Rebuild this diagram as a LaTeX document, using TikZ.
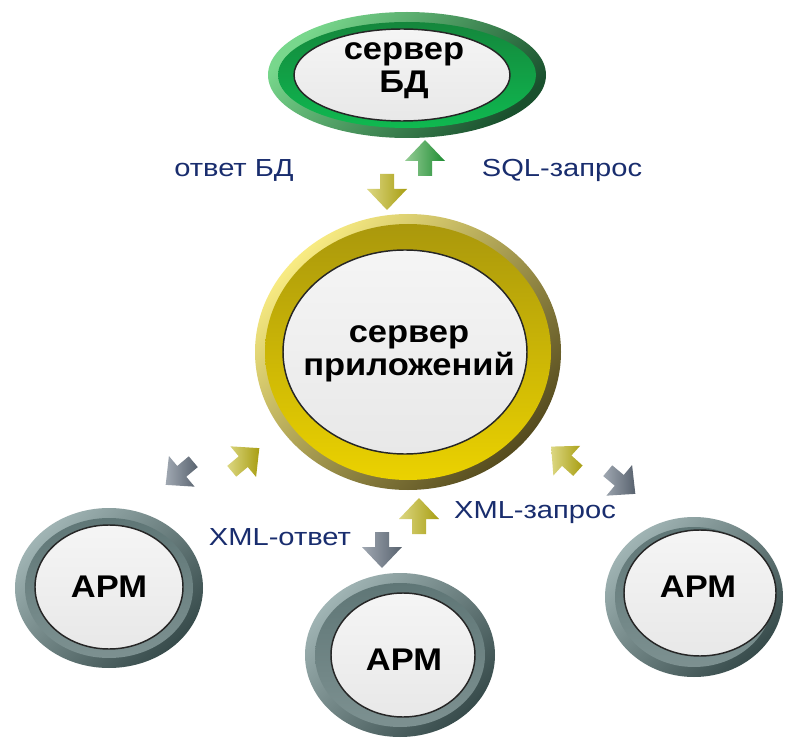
\documentclass[tikz,border=0pt]{standalone}
\usepackage{fontspec}
\setmainfont{Liberation Sans}
\newfontfamily\boldwide[FakeStretch=1.1]{Liberation Sans}
\newfontfamily\labwide[FakeStretch=1.18]{Liberation Sans}
\usetikzlibrary{shapes.geometric}
% ring colours
\definecolor{grnA}{RGB}{120,215,140}\definecolor{grnB}{RGB}{25,80,45}
\definecolor{grnC}{RGB}{20,135,60}\definecolor{grnD}{RGB}{15,185,80}
\definecolor{ylwA}{RGB}{248,235,130}\definecolor{ylwB}{RGB}{85,75,30}
\definecolor{ylwC}{RGB}{170,152,12}\definecolor{ylwD}{RGB}{235,210,0}
\definecolor{gryA}{RGB}{160,180,180}\definecolor{gryB}{RGB}{55,75,75}
\definecolor{gryC}{RGB}{95,118,118}\definecolor{gryD}{RGB}{125,145,145}
% arrow colours
\definecolor{agL}{RGB}{150,205,150}\definecolor{agD}{RGB}{30,140,50}
\definecolor{ayL}{RGB}{220,215,130}\definecolor{ayD}{RGB}{168,158,18}
\definecolor{arL}{RGB}{160,168,178}\definecolor{arD}{RGB}{88,98,110}
\definecolor{navy}{RGB}{25,45,110}
\tikzset{
  disc/.style={ellipse, inner sep=0pt, draw=black!85, line width=1.1pt,
    top color=gray!8, middle color=gray!32, bottom color=gray!18},
  bigtxt/.style={font=\boldwide\bfseries\fontsize{23.5}{25}\selectfont, align=center, inner sep=0pt},
  labtxt/.style={font=\labwide\fontsize{18.5}{20}\selectfont, text=navy, inner sep=0pt}
}
\newcommand\myring[5]{%
  \shade[top color=#5A, bottom color=#5B, shading angle=45] (#1,-#2) ellipse [x radius=#3, y radius=#4];
  \shade[top color=#5C, bottom color=#5D] (#1,-#2) ellipse [x radius=#3-10, y radius=#4-10];
}
\newcommand\blockarrow[5]{%
  \begin{scope}[shift={(#1,-#2)}, rotate=#3]
    \shade[left color=#4, right color=#5]
      (-16,-7) -- (-1,-7) -- (-1,-20) -- (20,0) -- (-1,20) -- (-1,7) -- (-16,7) -- cycle;
  \end{scope}}
\begin{document}
\begin{tikzpicture}[x=0.75pt,y=0.75pt]
\useasboundingbox (0,0) rectangle (786,-738);
\fill[white] (0,0) rectangle (786,-738);

% top: DB server
\myring{407}{75}{139}{63}{grn}
\node[disc, minimum width=162pt, minimum height=69pt] (dbdisc) at (402,-75) {};
\node[bigtxt] (db) at (404,-71) {сервер\\БД};

% centre: application server
\myring{408}{352}{153}{138}{ylw}
\node[disc, minimum width=183pt, minimum height=153pt] (appdisc) at (405,-352) {};
\node[bigtxt] (app) at (409,-354) {сервер\\приложений};

% workstations
\myring{109}{588}{94}{80}{gry}
\node[disc, minimum width=111pt, minimum height=93pt] (apm1disc) at (109,-587) {};
\node[bigtxt] (apm1) at (109,-587) {АРМ};

\myring{400}{655}{95}{82}{gry}
\node[disc, minimum width=108pt, minimum height=93pt] (apm2disc) at (403,-655) {};
\node[bigtxt] (apm2) at (404,-660) {АРМ};

\myring{694}{597}{89}{80}{gry}
\node[disc, minimum width=114pt, minimum height=94.5pt] (apm3disc) at (700,-593) {};
\node[bigtxt] (apm3) at (698,-587) {АРМ};

% block arrows
\blockarrow{425}{160}{90}{agL}{agD}
\blockarrow{387}{190}{270}{ayL}{ayD}
\blockarrow{181}{472}{220}{arL}{arD}
\blockarrow{244}{461}{40}{ayL}{ayD}
\blockarrow{566}{460}{138}{ayL}{ayD}
\blockarrow{620}{481}{-40}{arL}{arD}
\blockarrow{419}{518}{90}{ayL}{ayD}
\blockarrow{382}{548}{270}{arL}{arD}

% labels
\node[labtxt] (l1) at (234,-170) {ответ БД};
\node[labtxt] (l2) at (562,-170) {SQL-запрос};
\node[labtxt] (l3) at (280,-537) {XML-ответ};
\node[labtxt] (l4) at (535,-513) {XML-запрос};
\end{tikzpicture}
\end{document}
